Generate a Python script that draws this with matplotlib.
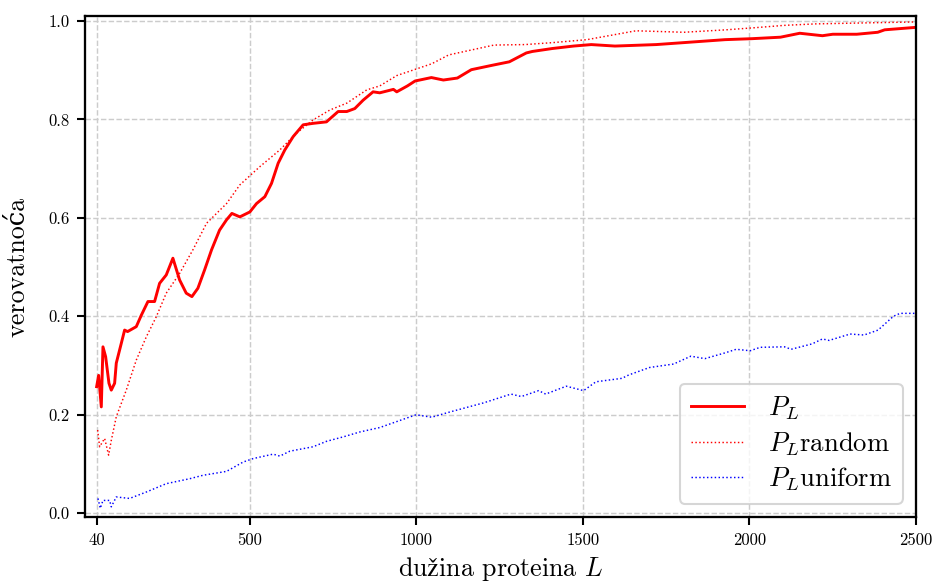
import numpy as np
import matplotlib
matplotlib.use("Agg")
import matplotlib.pyplot as plt

plt.rcParams['font.family'] = ['cmr10', 'DejaVu Serif']
plt.rcParams['mathtext.fontset'] = 'cm'
plt.rcParams['axes.formatter.use_mathtext'] = True

# P_L (solid red)
L_pl = [40, 46, 54, 59, 67, 77, 84, 94, 99, 114, 124, 133, 159, 174, 194, 214,
        229, 249, 269, 289, 309, 326, 344, 364, 385, 409, 430, 446, 470, 500,
        520, 545, 565, 585, 605, 630, 660, 690, 730, 765, 791, 815, 840, 870,
        890, 931, 941, 973, 996, 1045, 1081, 1123, 1165, 1228, 1279, 1330,
        1348, 1408, 1472, 1525, 1596, 1720, 1803, 1927, 2008, 2093, 2151,
        2219, 2250, 2322, 2385, 2406, 2500]
P_pl = [0.257, 0.28, 0.216, 0.338, 0.318, 0.264, 0.25, 0.264, 0.305, 0.345,
        0.372, 0.369, 0.379, 0.402, 0.43, 0.43, 0.467, 0.484, 0.518, 0.474,
        0.447, 0.44, 0.457, 0.494, 0.535, 0.575, 0.596, 0.609, 0.602, 0.612,
        0.629, 0.643, 0.670, 0.711, 0.738, 0.765, 0.789, 0.792, 0.795, 0.816,
        0.816, 0.822, 0.839, 0.856, 0.854, 0.861, 0.856, 0.868, 0.878, 0.885,
        0.880, 0.884, 0.901, 0.91, 0.917, 0.935, 0.938, 0.944, 0.949, 0.952,
        0.949, 0.952, 0.956, 0.962, 0.964, 0.967, 0.975, 0.970, 0.973, 0.973,
        0.977, 0.982, 0.987]

# P_L random (dotted red)
L_rand = [43, 49, 64, 76, 84, 99, 129, 159, 189, 219, 249, 289, 329, 370, 430,
          470, 530, 590, 640, 690, 740, 791, 851, 890, 941, 1046, 1097, 1233,
          1326, 1410, 1512, 1659, 1803, 1930, 2011, 2104, 2197, 2344, 2500]
P_rand = [0.169, 0.135, 0.152, 0.118, 0.148, 0.196, 0.25, 0.311, 0.358, 0.399,
          0.447, 0.487, 0.535, 0.589, 0.629, 0.667, 0.704, 0.738, 0.772, 0.799,
          0.819, 0.833, 0.860, 0.868, 0.889, 0.913, 0.931, 0.951, 0.952, 0.956,
          0.962, 0.980, 0.977, 0.982, 0.986, 0.991, 0.994, 0.996, 0.998]

# P_L uniform (dotted blue)
L_uni = [44, 51, 59, 79, 84, 99, 139, 189, 249, 319, 359, 430, 480, 510, 570,
         590, 620, 690, 730, 780, 830, 890, 999, 1046, 1097, 1201, 1284, 1315,
         1367, 1388, 1450, 1502, 1539, 1617, 1638, 1700, 1772, 1824, 1866,
         1928, 1960, 2002, 2032, 2105, 2125, 2188, 2219, 2239, 2302, 2344,
         2386, 2432, 2452, 2500]
P_uni = [0.030, 0.010, 0.026, 0.026, 0.013, 0.033, 0.030, 0.043, 0.060, 0.070,
         0.077, 0.085, 0.104, 0.111, 0.120, 0.116, 0.126, 0.135, 0.146, 0.155,
         0.165, 0.174, 0.200, 0.195, 0.205, 0.224, 0.242, 0.237, 0.249, 0.242,
         0.258, 0.249, 0.267, 0.274, 0.281, 0.296, 0.303, 0.319, 0.314, 0.326,
         0.333, 0.330, 0.337, 0.338, 0.333, 0.344, 0.354, 0.351, 0.364, 0.362,
         0.372, 0.400, 0.406, 0.406]

xticks = [40, 500, 1000, 1500, 2000, 2500]
yticks = [0.0, 0.2, 0.4, 0.6, 0.8, 1.0]

fig = plt.figure(figsize=(940 / 150, 587 / 150), dpi=150)
ax = fig.add_axes([0.0904, 0.119, 0.8841, 0.8537])

ax.plot(L_pl, P_pl, '-', color='red', lw=1.4, label=r'$P_L$')
ax.plot(L_rand, P_rand, ':', color='red', lw=0.7, label=r'$P_L$random')
ax.plot(L_uni, P_uni, ':', color='blue', lw=0.7, label=r'$P_L$uniform')

ax.set_xlim(5, 2500)
ax.set_ylim(-0.008, 1.01)
ax.set_xticks(xticks)
ax.set_xticklabels([str(t) for t in xticks])
ax.set_yticks(yticks)
ax.set_yticklabels(['%.1f' % t for t in yticks])
ax.tick_params(labelsize=8, length=4, width=1.0)

ax.grid(True, linestyle='--', color='#cccccc', lw=0.7)
for s in ax.spines.values():
    s.set_linewidth(1.1)

ax.set_xlabel(r'du$\mathrm{ž}$ina proteina $L$', fontsize=12.5, labelpad=3.5)
ax.set_ylabel('verovatnoća', fontsize=12.5, labelpad=9)

leg = ax.legend(loc='lower right', fontsize=12.8, fancybox=True, framealpha=0.8,
                edgecolor='#cccccc', handlelength=2.0, handletextpad=0.9,
                borderpad=0.4, labelspacing=0.3)

fig.savefig('out.png', dpi=150)
